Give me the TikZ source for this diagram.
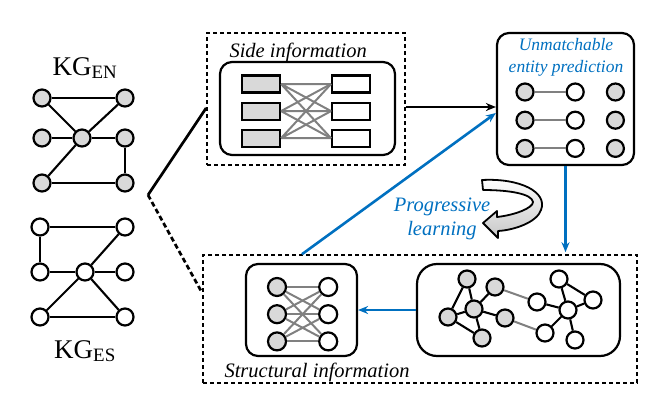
\documentclass[tikz,border=0pt]{standalone}
\usepackage{fontspec}
\setmainfont{Liberation Serif}
\usepackage{xcolor}
\definecolor{colorFlow}{RGB}{0,112,192}
\colorlet{colorEN}{black!15}
\colorlet{colorLink}{black!50}
\usetikzlibrary{arrows.meta, positioning}
\tikzset{
  ent/.style={circle, draw, line width=2.2pt, fill=white, minimum size=17pt, inner sep=0pt},
  entEN/.style={ent, fill=colorEN},
  kgedge/.style={line width=2.1pt},
  link/.style={colorLink, line width=2pt},
  attr/.style={rectangle, draw, line width=2.1pt, minimum width=38pt, minimum height=17pt, inner sep=0pt},
  panel/.style={draw, line width=2.2pt, rounded corners=12pt, inner sep=0pt},
  region/.style={draw, line width=1.6pt, dash pattern=on 4pt off 3pt, inner sep=0pt},
  title/.style={font=\fontsize{20.5}{24}\selectfont\itshape},
  flow/.style={colorFlow, line width=2.6pt, -{Stealth[length=10pt,width=8pt]}},
}

\begin{document}
\begin{tikzpicture}[x=1pt, y=-1pt]
\useasboundingbox (0,0) rectangle (664,415);

% KG EN
\node[font=\fontsize{27}{30}\selectfont, anchor=base] (kgen) at (85,75) {KG\textsubscript{EN}};
\node[entEN] (en1) at (42,98) {};
\node[entEN] (en2) at (125,98) {};
\node[entEN] (en3) at (42,138) {};
\node[entEN] (en4) at (82,138) {};
\node[entEN] (en5) at (125,138) {};
\node[entEN] (en6) at (42,183) {};
\node[entEN] (en7) at (125,183) {};
\draw[kgedge] (en1) -- (en2);
\draw[kgedge] (en1) -- (en4);
\draw[kgedge] (en2) -- (en4);
\draw[kgedge] (en4) -- (en6);
\draw[kgedge] (en3) -- (en4);
\draw[kgedge] (en4) -- (en5);
\draw[kgedge] (en5) -- (en7);
\draw[kgedge] (en6) -- (en7);

% KG ES
\node[ent] (es1) at (40,227) {};
\node[ent] (es2) at (125,227) {};
\node[ent] (es3) at (40,272) {};
\node[ent] (es4) at (85,272) {};
\node[ent] (es5) at (125,272) {};
\node[ent] (es6) at (40,317) {};
\node[ent] (es7) at (125,317) {};
\draw[kgedge] (es1) -- (es2);
\draw[kgedge] (es1) -- (es3);
\draw[kgedge] (es2) -- (es4);
\draw[kgedge] (es3) -- (es4);
\draw[kgedge] (es4) -- (es5);
\draw[kgedge] (es4) -- (es6);
\draw[kgedge] (es4) -- (es7);
\draw[kgedge] (es6) -- (es7);
\node[font=\fontsize{27}{30}\selectfont, anchor=base] (kges) at (85,358) {KG\textsubscript{ES}};

% side information
\node[region, minimum width=198pt, minimum height=132pt] (side) at (306,99) {};
\node[title, anchor=base west] (sidetitle) at (226,57) {Side information};
\node[panel, minimum width=175pt, minimum height=93pt] (sidepanel) at (307.5,108.5) {};
\node[attr, fill=colorEN] (a1) at (261,84) {};
\node[attr, fill=colorEN, below=8pt of a1] (a2) {};
\node[attr, fill=colorEN, below=8pt of a2] (a3) {};
\node[attr, right=50pt of a1] (b1) {};
\node[attr, right=50pt of a2] (b2) {};
\node[attr, right=50pt of a3] (b3) {};
\draw[link] (a1.east) -- (b1.west) (a1.east) -- (b2.west) (a1.east) -- (b3.west);
\draw[link] (a2.east) -- (b1.west) (a2.east) -- (b2.west) (a2.east) -- (b3.west);
\draw[link] (a3.east) -- (b1.west) (a3.east) -- (b2.west) (a3.east) -- (b3.west);

% unmatchable entity prediction
\node[panel, minimum width=137pt, minimum height=132pt] (unmatch) at (565.5,99) {};
\node[font=\fontsize{17.5}{22}\selectfont\itshape, text=colorFlow, align=center] (unmatchtitle) at (566,57) {Unmatchable\\entity prediction};
\node[entEN] (u1) at (525,92) {};
\node[entEN, below=9pt of u1] (u2) {};
\node[entEN, below=9pt of u2] (u3) {};
\node[ent, right=31pt of u1] (v1) {};
\node[ent, right=31pt of u2] (v2) {};
\node[ent, right=31pt of u3] (v3) {};
\node[entEN, right=21pt of v1] (x1) {};
\node[entEN, right=21pt of v2] (x2) {};
\node[entEN, right=21pt of v3] (x3) {};
\draw[link] (u1) -- (v1);
\draw[link] (u2) -- (v2);
\draw[link] (u3) -- (v3);

% structural information
\node[region, minimum width=434pt, minimum height=128pt] (strucbox) at (420,319) {};
\node[title, anchor=base west] (structitle) at (221,377) {Structural information};
\node[panel, minimum width=111pt, minimum height=92pt] (gnn) at (301.5,310) {};
\node[entEN, minimum size=18pt] (s1) at (277,287) {};
\node[entEN, minimum size=18pt, below=7pt of s1] (s2) {};
\node[entEN, minimum size=18pt, below=7pt of s2] (s3) {};
\node[ent, minimum size=18pt, right=31pt of s1] (t1) {};
\node[ent, minimum size=18pt, right=31pt of s2] (t2) {};
\node[ent, minimum size=18pt, right=31pt of s3] (t3) {};
\draw[link] (s1) edge (t1) edge (t2) edge (t3);
\draw[link] (s2) edge (t1) edge (t2) edge (t3);
\draw[link] (s3) edge (t1) edge (t2) edge (t3);

\node[panel, rounded corners=20pt, minimum width=203pt, minimum height=92pt] (graph) at (518.5,310) {};
\node[entEN] (g1) at (467,279) {};
\node[entEN] (g2) at (495,287) {};
\node[entEN] (g3) at (474,309) {};
\node[entEN] (g4) at (448,317) {};
\node[entEN] (g5) at (505,318) {};
\node[entEN] (g6) at (482,338) {};
\node[ent] (w1) at (559,279) {};
\node[ent] (w2) at (593,300) {};
\node[ent] (w3) at (537,302) {};
\node[ent] (w4) at (568,310) {};
\node[ent] (w5) at (545,333) {};
\node[ent] (w6) at (575,340) {};
\draw[link] (g2) -- (w3);
\draw[link] (g5) -- (w5);
\draw[kgedge] (g1) -- (g4);
\draw[kgedge] (g1) -- (g3);
\draw[kgedge] (g3) -- (g2);
\draw[kgedge] (g3) -- (g4);
\draw[kgedge] (g3) -- (g5);
\draw[kgedge] (g3) -- (g6);
\draw[kgedge] (g4) -- (g6);
\draw[kgedge] (w1) -- (w2);
\draw[kgedge] (w1) -- (w4);
\draw[kgedge] (w2) -- (w4);
\draw[kgedge] (w3) -- (w4);
\draw[kgedge] (w4) -- (w5);
\draw[kgedge] (w4) -- (w6);

% connectors
\coordinate (fork) at (148,195);
\draw[line width=2.7pt] (fork) -- ([yshift=-9pt]side.west);
\draw[line width=2.7pt, dash pattern=on 5pt off 3pt] (fork) -- ([yshift=26pt]strucbox.west);
\draw[line width=2.6pt, -{Stealth[length=10pt,width=8pt]}] ([yshift=-8pt]side.east) -- ([yshift=-8pt]unmatch.west);
\draw[flow] ([xshift=-118pt]strucbox.north) -- ([yshift=-14pt]unmatch.west);
\draw[flow] (unmatch.south) -- ([yshift=2pt]unmatch.south |- strucbox.north);
\draw[flow] (graph.west) -- (gnn.east);

% progressive learning
\node[font=\fontsize{20.5}{24}\selectfont\itshape, text=colorFlow, align=center] (progress) at (442,219) {Progressive\\learning};
\draw[line width=1.8pt, top color=white, bottom color=black!22, line join=round]
  (482,180) .. controls (520,178) and (548,192) .. (541,210)
  .. controls (537,222) and (515,230) .. (498,231) -- (498,238) -- (483,223) -- (497,211) -- (497,217)
  .. controls (515,215) and (533,208) .. (533,202)
  .. controls (532,194) and (510,190) .. (483,190) -- cycle;
\end{tikzpicture}
\end{document}
